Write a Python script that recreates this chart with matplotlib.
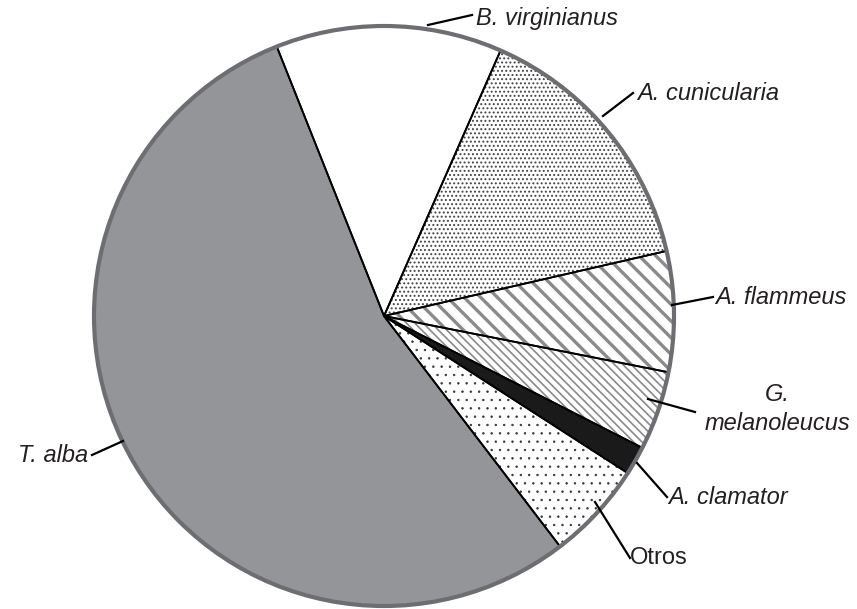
import matplotlib
matplotlib.use("Agg")
import matplotlib.pyplot as plt
from matplotlib.patches import Circle

# shares of each owl species (percent)
species = ["B. virginianus", "A. cunicularia", "A. flammeus",
           "G.\nmelanoleucus", "A. clamator", "Otros", "T. alba"]
shares = [12.6, 14.8, 6.7, 4.4, 1.6, 5.5, 54.3]

# fill styles per slice
fills = ["white", "white", "white", "white", "#1a1a1a", "white", "#939598"]
hatches = [None, "....", "\\\\", "\\\\\\\\", None, "..", None]
hatch_cols = ["white", "#444444", "#8a8a8a", "#8a8a8a", "#1a1a1a", "#333333", "#939598"]
hatch_lw = [1.0, 0.9, 2.4, 1.2, 1.0, 0.5, 1.0]

W, H = 857, 609
CX, CY, R = 384, 316, 290
START = 111.7


def py(y):
    # pixel row (from top) to data y
    return H - y


# label layout: text anchor, leader start, leader end (pixels from top-left)
labels = [
    ((476, 18), (428, 25), (472, 15), "left", True),
    ((637, 93), (603, 116), (633, 93), "left", True),
    ((715, 298), (672, 305), (713, 297), "left", True),
    ((777, 409), (648, 399), (695, 412), "center", True),
    ((668, 497), (637, 463), (667, 497), "left", True),
    ((630, 558), (595, 502), (630, 558), "left", False),
    ((88, 455), (123, 441), (92, 455), "right", True),
]

fig = plt.figure(figsize=(W / 100, H / 100), dpi=100)
ax = fig.add_axes([0, 0, 1, 1])

wedges, _ = ax.pie(shares, startangle=START, counterclock=False,
                   center=(CX, py(CY)), radius=R, colors=fills,
                   wedgeprops=dict(linewidth=0))
for w, h, hc, lw in zip(wedges, hatches, hatch_cols, hatch_lw):
    w.set_edgecolor(hc)
    w.set_linewidth(0)
    if h:
        w.set_hatch(h)
        if hasattr(w, "set_hatch_linewidth"):
            w.set_hatch_linewidth(lw)

# slice borders
ax.pie(shares, startangle=START, counterclock=False,
       center=(CX, py(CY)), radius=R,
       wedgeprops=dict(facecolor="none", edgecolor="black", linewidth=1.3))

ax.add_patch(Circle((CX, py(CY)), R, facecolor="none",
                    edgecolor="#6d6e71", linewidth=3, zorder=5))

for name, (tpos, a, b, ha, ital) in zip(species, labels):
    ax.plot([a[0], b[0]], [py(a[1]), py(b[1])], color="black", lw=1.6, zorder=6)
    ax.text(tpos[0], py(tpos[1]), name, ha=ha, va="center",
            fontsize=17, family="Liberation Sans",
            style="italic" if ital else "normal",
            color="#231f20", linespacing=1.35)

ax.set_xlim(0, W)
ax.set_ylim(0, H)
ax.set_aspect("equal")
ax.axis("off")

fig.savefig("out.png", dpi=100, facecolor="white")
